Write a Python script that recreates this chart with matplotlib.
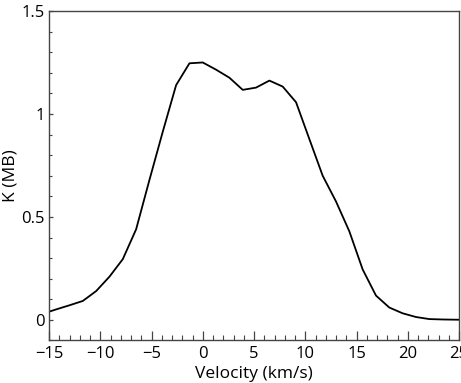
import matplotlib
matplotlib.use("Agg")
import matplotlib.pyplot as plt
from matplotlib.ticker import MultipleLocator

# Spectral line profile: velocity channels and antenna temperature
velocity = [-15.6, -14.3, -13.0, -11.7, -10.4, -9.1, -7.8, -6.5, -5.2, -3.9,
            -2.6, -1.3, 0.0, 1.3, 2.6, 3.9, 5.2, 6.5, 7.8, 9.1,
            10.4, 11.7, 13.0, 14.3, 15.6, 16.9, 18.2, 19.5, 20.8, 22.1,
            23.4, 24.7, 26.0]
intensity = [0.030, 0.051, 0.071, 0.092, 0.140, 0.210, 0.295, 0.440, 0.680, 0.914,
             1.140, 1.246, 1.250, 1.215, 1.176, 1.117, 1.128, 1.162, 1.133, 1.057,
             0.878, 0.700, 0.575, 0.430, 0.245, 0.118, 0.060, 0.032, 0.014, 0.004,
             0.002, 0.001, 0.000]

x_ticks = [-15, -10, -5, 0, 5, 10, 15, 20, 25]
y_ticks = [0, 0.5, 1, 1.5]
y_tick_labels = ["0", "0.5", "1", "1.5"]

plt.rcParams["font.family"] = ["Open Sans", "DejaVu Sans"]

fig = plt.figure(figsize=(4.61, 3.83), dpi=100)
ax = fig.add_axes([0.1063, 0.111, 0.8894, 0.8603])

ax.plot(velocity, intensity, color="black", linewidth=1.3, clip_on=True)

ax.set_xlim(-15, 25)
ax.set_ylim(-0.1, 1.5)
ax.set_xticks(x_ticks)
ax.set_xticklabels([str(t).replace("-", "\u2212") for t in x_ticks])
ax.set_yticks(y_ticks)
ax.set_yticklabels(y_tick_labels)
ax.xaxis.set_minor_locator(MultipleLocator(1))
ax.yaxis.set_minor_locator(MultipleLocator(0.1))

spine_color = "#444444"
for s in ax.spines.values():
    s.set_color(spine_color)
    s.set_linewidth(1.0)

ax.tick_params(axis="x", which="major", direction="in", length=6.5, width=0.9,
               color=spine_color, labelsize=12, pad=4.2, top=False)
ax.tick_params(axis="x", which="minor", direction="in", length=3.5, width=0.8,
               color=spine_color, top=False)
ax.tick_params(axis="y", which="major", direction="in", length=3.2, width=0.9,
               color=spine_color, labelsize=12, pad=3, right=False)
ax.tick_params(axis="y", which="minor", direction="in", length=2.0, width=0.8,
               color=spine_color, right=False)

ax.set_xlabel("Velocity (km/s)", fontsize=12.5, labelpad=2.5)
ax.set_ylabel("K (MB)", fontsize=12.5, labelpad=2)

fig.savefig("out.png", dpi=100)
